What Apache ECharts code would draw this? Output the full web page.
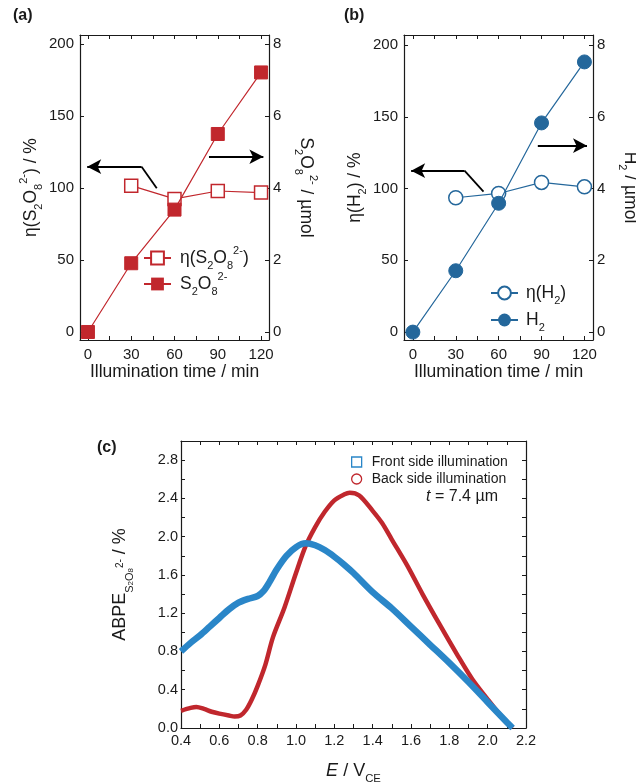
<!DOCTYPE html>
<html><head><meta charset="utf-8">
<script src="https://cdn.jsdelivr.net/npm/echarts@6/dist/echarts.min.js"></script>
<style>html,body{margin:0;padding:0;background:#fff}#c{width:636px;height:783px}</style>
</head><body><div id="c"></div>
<script>
// ---------- data ----------
const timeMin = [0, 30, 60, 90, 120];
const etaS2O8 = [null, 101.6, 92.4, 97.9, 96.8];
const s2o8Umol = [0, 1.91, 3.40, 5.50, 7.21];
const etaH2 = [null, 93.6, 96.6, 104.3, 101.2];
const h2Umol = [0, 1.71, 3.59, 5.83, 7.53];

const timeTicks = [0, 15, 30, 45, 60, 75, 90, 105, 120];
const timeLabels = [0, 30, 60, 90, 120];
const etaTicks = [0, 50, 100, 150, 200];
const umolTicks = [0, 2, 4, 6, 8];

const frontE = [0.40,0.45,0.50,0.55,0.60,0.65,0.70,0.75,0.80,0.83,0.86,0.90,0.95,1.00,1.05,1.10,1.15,1.20,1.25,1.30,1.40,1.50,1.60,1.70,1.80,1.90,2.00,2.10,2.13];
const frontABPE = [0.80,0.89,0.97,1.06,1.15,1.24,1.31,1.35,1.38,1.43,1.52,1.66,1.80,1.89,1.93,1.91,1.86,1.79,1.71,1.62,1.42,1.25,1.06,0.87,0.68,0.48,0.27,0.06,0.00];
const backE = [0.40,0.45,0.48,0.52,0.56,0.60,0.65,0.68,0.71,0.74,0.77,0.80,0.84,0.88,0.94,1.00,1.05,1.10,1.15,1.20,1.25,1.28,1.33,1.40,1.45,1.50,1.58,1.66,1.75,1.84,1.92,2.00,2.06,2.13];
const backABPE = [0.18,0.21,0.22,0.20,0.17,0.15,0.13,0.12,0.13,0.19,0.30,0.44,0.66,0.95,1.26,1.62,1.90,2.10,2.26,2.38,2.44,2.46,2.43,2.27,2.14,1.97,1.70,1.40,1.08,0.77,0.51,0.30,0.15,0.00];

const eTicks = [0.4,0.5,0.6,0.7,0.8,0.9,1.0,1.1,1.2,1.3,1.4,1.5,1.6,1.7,1.8,1.9,2.0,2.1,2.2];
const eLabels = [0.4,0.6,0.8,1.0,1.2,1.4,1.6,1.8,2.0,2.2];
const abpeTicks = [0,0.2,0.4,0.6,0.8,1.0,1.2,1.4,1.6,1.8,2.0,2.2,2.4,2.6,2.8];
const abpeLabels = [0,0.4,0.8,1.2,1.6,2.0,2.4,2.8];

// ---------- styles ----------
const FONT = 'Liberation Sans, Arial, Helvetica, sans-serif';
const INK = '#1a1a1a';
const RED = '#c1272d';
const BLUE = '#24679b';
const FRONT = '#2a86c8';
const BACK = '#c0272d';

const rich = (fs) => ({
  n: {fontSize: fs, fontFamily: FONT, color: INK, lineHeight: 26},
  i: {fontSize: fs, fontFamily: FONT, color: INK, lineHeight: 26, fontStyle: 'italic'},
  sb: {fontSize: fs * 0.63, fontFamily: FONT, color: INK, lineHeight: 16, verticalAlign: 'bottom'},
  sp: {fontSize: fs * 0.63, fontFamily: FONT, color: INK, lineHeight: 11, verticalAlign: 'top'}
});
const richABPE = {
  n: {fontSize: 18, fontFamily: FONT, color: INK, lineHeight: 30},
  sb: {fontSize: 11, fontFamily: FONT, color: INK, lineHeight: 10, verticalAlign: 'bottom'},
  ss: {fontSize: 8, fontFamily: FONT, color: INK, lineHeight: 5, verticalAlign: 'bottom'},
  sp: {fontSize: 10, fontFamily: FONT, color: INK, verticalAlign: 'middle'}
};

function axisBase(extra) {
  return Object.assign({
    type: 'value',
    axisLine: {show: true, onZero: false, lineStyle: {color: INK, width: 1.2}},
    splitLine: {show: false},
    axisLabel: {color: INK, fontFamily: FONT, fontSize: 15},
    nameTextStyle: {fontFamily: FONT, fontSize: 17.5, color: INK}
  }, extra);
}
function ticks(vals, len) { return {show: true, inside: true, length: len || 4, lineStyle: {color: INK, width: 1}, customValues: vals}; }
function labels(vals, margin, fs, fmt) {
  const o = {show: true, customValues: vals, margin: margin, color: INK, fontFamily: FONT, fontSize: fs};
  if (fmt) o.formatter = fmt;
  return o;
}
const noLabel = {show: false};

const pairs = (xs, ys) => xs.map((x, i) => [x, ys[i]]).filter(d => d[1] != null);

const nameMap = {
  etaS: '{n|η(S}{sb|2}{n|O}{sb|8}{sp|2-}{n|)}',
  S: '{n|S}{sb|2}{n|O}{sb|8}{sp|2-}',
  etaH: '{n|η(H}{sb|2}{n|)}',
  H: '{n|H}{sb|2}',
  front: 'Front side illumination',
  back: 'Back side illumination'
};

function arrowLines(left, right) {
  const ls = {color: '#000', width: 1.8, type: 'solid'};
  return {
    silent: true, animation: false, symbol: ['none', 'arrow'], symbolSize: [11, 14],
    label: {show: false}, lineStyle: ls,
    data: [
      [{coord: left[0], symbol: 'none'}, {coord: left[1], symbol: 'none'}],
      [{coord: left[1], symbol: 'none'}, {coord: left[2]}],
      [{coord: right[0], symbol: 'none'}, {coord: right[1]}]
    ]
  };
}

const legendRich = Object.assign({}, rich(17.5));

const option = {
  backgroundColor: '#fff',
  animation: false,
  grid: [
    {left: 80, top: 35, width: 189, height: 305, outerBoundsMode: 'none'},
    {left: 404, top: 35, width: 189, height: 305, outerBoundsMode: 'none'},
    {left: 181, top: 441, width: 345, height: 287, outerBoundsMode: 'none'}
  ],
  xAxis: [
    axisBase({gridIndex: 0, position: 'bottom', min: -5.5, max: 125.5, axisTick: ticks(timeTicks), axisLabel: labels(timeLabels, 7, 15),
      name: 'Illumination time / min', nameLocation: 'middle', nameGap: 22}),
    axisBase({gridIndex: 0, position: 'top', min: -5.5, max: 125.5, axisTick: ticks(timeTicks), axisLabel: noLabel}),
    axisBase({gridIndex: 1, position: 'bottom', min: -6.2, max: 126, axisTick: ticks(timeTicks), axisLabel: labels(timeLabels, 7, 15),
      name: 'Illumination time / min', nameLocation: 'middle', nameGap: 22}),
    axisBase({gridIndex: 1, position: 'top', min: -6.2, max: 126, axisTick: ticks(timeTicks), axisLabel: noLabel}),
    axisBase({gridIndex: 2, position: 'bottom', min: 0.4, max: 2.2, axisTick: ticks(eTicks), axisLabel: labels(eLabels, 5, 14.5, v => v.toFixed(1)),
      name: '{i|E}{n| / V}{sb|CE}', nameLocation: 'middle', nameGap: 30,
      nameTextStyle: {rich: rich(18)}}),
    axisBase({gridIndex: 2, position: 'top', min: 0.4, max: 2.2, axisTick: ticks(eTicks), axisLabel: noLabel})
  ],
  yAxis: [
    axisBase({gridIndex: 0, position: 'left', min: -5.56, max: 206.25, axisTick: ticks(etaTicks), axisLabel: labels(etaTicks, 6, 15),
      name: '{n|η(S}{sb|2}{n|O}{sb|8}{sp|2-}{n|) / %}', nameLocation: 'middle', nameGap: 36, nameRotate: 90,
      nameTextStyle: {rich: rich(17.5)}}),
    axisBase({gridIndex: 0, position: 'right', min: -0.2224, max: 8.25, axisTick: ticks(umolTicks), axisLabel: labels(umolTicks, 4, 15),
      name: '{n|S}{sb|2}{n|O}{sb|8}{sp|2-}{n| / µmol}', nameLocation: 'middle', nameGap: 24, nameRotate: -90,
      nameTextStyle: {rich: rich(17.5)}}),
    axisBase({gridIndex: 1, position: 'left', min: -5.5, max: 207, axisTick: ticks(etaTicks), axisLabel: labels(etaTicks, 6, 15),
      name: '{n|η(H}{sb|2}{n|) / %}', nameLocation: 'middle', nameGap: 36, nameRotate: 90,
      nameTextStyle: {rich: rich(17.5)}}),
    axisBase({gridIndex: 1, position: 'right', min: -0.22, max: 8.28, axisTick: ticks(umolTicks), axisLabel: labels(umolTicks, 4, 15),
      name: '{n|H}{sb|2}{n| / µmol}', nameLocation: 'middle', nameGap: 24, nameRotate: -90,
      nameTextStyle: {rich: rich(17.5)}}),
    axisBase({gridIndex: 2, position: 'left', min: 0, max: 3.0, axisTick: ticks(abpeTicks), axisLabel: labels(abpeLabels, 3, 14.5, v => v.toFixed(1)),
      name: '{n|ABPE}{sb|S}{ss|2}{sb|O}{ss|8}{sp|2-}{n| / %}', nameLocation: 'middle', nameGap: 46, nameRotate: 90,
      nameTextStyle: {rich: richABPE}}),
    axisBase({gridIndex: 2, position: 'right', min: 0, max: 3.0, axisTick: ticks(abpeTicks), axisLabel: noLabel})
  ],
  legend: [
    {data: ['etaS', 'S'], orient: 'vertical', left: 143, top: 245, padding: 0, itemWidth: 27, itemHeight: 16, itemGap: 0,
      formatter: n => nameMap[n], textStyle: {rich: legendRich, color: INK, padding: [0, 0, 0, 4]}},
    {data: ['etaH', 'H'], orient: 'vertical', left: 490, top: 284, padding: 0, itemWidth: 27, itemHeight: 16, itemGap: 5,
      formatter: n => nameMap[n], textStyle: {rich: legendRich, color: INK, padding: [0, 0, 0, 3]}},
    {data: [
        {name: 'front', icon: 'rect', itemStyle: {color: '#fff', borderColor: FRONT, borderWidth: 1.3}},
        {name: 'back', icon: 'circle', itemStyle: {color: '#fff', borderColor: BACK, borderWidth: 1.3}}
      ], orient: 'vertical', left: 351, top: 455, padding: 0, itemWidth: 10, itemHeight: 10, itemGap: 3,
      formatter: n => nameMap[n], textStyle: {fontFamily: FONT, fontSize: 14, color: INK, padding: [0, 0, 0, 5]}}
  ],
  graphic: [
    {type: 'text', left: 13, top: 8, style: {text: '(a)', font: 'bold 16px ' + FONT, fill: INK}},
    {type: 'text', left: 344, top: 8, style: {text: '(b)', font: 'bold 16px ' + FONT, fill: INK}},
    {type: 'text', left: 97, top: 440, style: {text: '(c)', font: 'bold 16px ' + FONT, fill: INK}},
    {type: 'text', right: 138, top: 489, style: {text: '{i|t}{n| = 7.4 µm}', rich: {
      i: {fontSize: 16, fontFamily: FONT, fontStyle: 'italic', fill: INK, color: INK},
      n: {fontSize: 16, fontFamily: FONT, fill: INK, color: INK}}}}
  ],
  series: [
    {name: 'etaS', type: 'line', xAxisIndex: 0, yAxisIndex: 0, data: pairs(timeMin, etaS2O8),
      symbol: 'rect', symbolSize: 13, z: 3,
      itemStyle: {color: '#fff', borderColor: RED, borderWidth: 1.5}, lineStyle: {color: RED, width: 1.2},
      markLine: arrowLines([[47.7, 99.8], [37.2, 114.8], [-0.5, 114.8]], [[83.9, 121.7], [121.6, 121.7]])},
    {name: 'S', type: 'line', xAxisIndex: 0, yAxisIndex: 1, data: pairs(timeMin, s2o8Umol),
      symbol: 'rect', symbolSize: 13, z: 4,
      itemStyle: {color: RED, borderColor: RED}, lineStyle: {color: RED, width: 1.2}},
    {name: 'etaH', type: 'line', xAxisIndex: 2, yAxisIndex: 2, data: pairs(timeMin, etaH2),
      symbol: 'circle', symbolSize: 14, z: 3,
      itemStyle: {color: '#fff', borderColor: BLUE, borderWidth: 1.5}, lineStyle: {color: BLUE, width: 1.2},
      markLine: arrowLines([[49.4, 97.9], [36.1, 112.5], [-1.2, 112.5]], [[87.4, 129.9], [121.8, 129.9]])},
    {name: 'H', type: 'line', xAxisIndex: 2, yAxisIndex: 3, data: pairs(timeMin, h2Umol),
      symbol: 'circle', symbolSize: 14, z: 4,
      itemStyle: {color: BLUE, borderColor: BLUE}, lineStyle: {color: BLUE, width: 1.2}},
    {name: 'back', type: 'line', xAxisIndex: 4, yAxisIndex: 4, data: pairs(backE, backABPE),
      showSymbol: false, smooth: 0.3, z: 2, itemStyle: {color: BACK}, lineStyle: {color: BACK, width: 4.5}},
    {name: 'front', type: 'line', xAxisIndex: 4, yAxisIndex: 4, data: pairs(frontE, frontABPE),
      showSymbol: false, smooth: 0.3, z: 3, itemStyle: {color: FRONT}, lineStyle: {color: FRONT, width: 6.5}}
  ]
};

const chart = echarts.init(document.getElementById('c'), null, {renderer: 'canvas'});
chart.setOption(option);
</script>
</body></html>
